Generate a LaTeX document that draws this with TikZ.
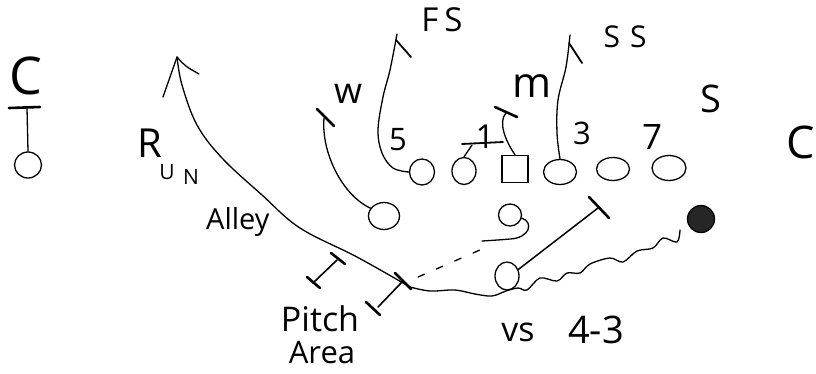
\documentclass[tikz,border=0pt]{standalone}
\usepackage{fontspec}
\setmainfont{Open Sans}
\usetikzlibrary{shapes.geometric,calc}
\begin{document}
\begin{tikzpicture}[x=1pt,y=-1pt,
  pen/.style={line width=1.3pt,line cap=round,line join=round},
  bar/.style={line width=2.6pt,line cap=round},
  leg/.style={line width=1.8pt,line cap=round},
  player/.style={draw,ellipse,line width=1.3pt,inner sep=0pt},
  lbl/.style={inner sep=0pt,font=\fontsize{#1}{#1}\selectfont},
]
\useasboundingbox (0,0) rectangle (816,373);

% ---------- players ----------
\node[player,minimum width=27pt,minimum height=26pt] (cb) at (28,165) {};
\node[player,minimum width=31pt,minimum height=27pt] (w)  at (384,216) {};
\node[player,minimum width=25pt,minimum height=26pt] (lt) at (422,172) {};
\node[player,minimum width=24pt,minimum height=27pt] (lg) at (464,171) {};
\node[draw,rectangle,line width=1.3pt,minimum width=26pt,minimum height=27pt] (c) at (515,169) {};
\node[player,minimum width=33pt,minimum height=25pt] (rg) at (560,172) {};
\node[player,minimum width=33pt,minimum height=23pt] (rt) at (613,169) {};
\node[player,minimum width=34pt,minimum height=25pt] (te) at (669,168) {};
\node[player,minimum width=23pt,minimum height=22pt] (rb) at (510,215) {};
\node[player,minimum width=24pt,minimum height=28pt] (qb) at (507,276) {};
\node[player,fill=black!85,minimum size=27pt] (ball) at (701,219) {};

% ---------- labels ----------
\node[lbl=52] (cL) at (26,76) {C};
\node[lbl=45] (cR) at (801,142) {C};
\node[lbl=40] (runR) at (150,143) {R};
\node[lbl=21] (runU) at (167,172) {U};
\node[lbl=21] (runN) at (191,177) {N};
\node[lbl=29,anchor=base west] (alley) at (206,229) {Alley};
\node[lbl=34] (pitch) at (320,319) {Pitch};
\node[lbl=31] (area) at (322,353) {Area};
\node[lbl=33] (fs) at (442,20) {F\hspace{6pt}S};
\node[lbl=30] (ss) at (625,37) {S\hspace{10pt}S};
\node[lbl=38] (s) at (711,99) {S};
\node[lbl=36] (wl) at (348,94) {w};
\node[lbl=42] (ml) at (532,86) {m};
\node[lbl=31] (n5) at (398,140) {5};
\node[lbl=33] (n1) at (485,137) {1};
\node[lbl=31] (n3) at (582,133) {3};
\node[lbl=35] (n7) at (652,137) {7};
\node[lbl=34] (vs) at (518,332) {vs};
\node[lbl=38] (fourthree) at (596,330) {4-3};

% ---------- corner ----------
\coordinate (cbT) at (27,108);
\draw[pen] (cb.north) -- (cbT);
\draw[bar] (9,108) -- (40,107);

% ---------- option run path ----------
\coordinate (pp) at (410,287);
\coordinate (tip) at (177,57);
\draw[pen] plot[smooth,tension=0.6] coordinates {(pp) (357,257) (300,228) (262,195) (222,158) (197,125) (182,85) (tip)};
\draw[pen] (163,97) -- (tip) .. controls (185,66) .. (199,74);

% ---------- pitch area markers ----------
\draw[pen,line width=1.6pt] (313,283) -- (337,260);
\draw[bar] (307,277) -- (320,288);
\draw[bar] (331,253) -- (345,264);
\draw[pen,line width=1.6pt] (403,281) -- (378,307);
\draw[bar] (395,273) -- (411,289);
\draw[bar] (366,302) -- (380,315);

% ---------- pitch (dashed) ----------
\coordinate (dashEnd) at (489,246);
\draw[pen,dash pattern=on 7pt off 13pt] (418,277) -- (dashEnd);

% ---------- quarterback's wavy path ----------
\draw[pen] plot[smooth,tension=0.55] coordinates {(pp) (430,291) (455,290) (475,294) (492,296) (506,291) (518,288) (527,290) (540,278) (557,281) (567,273) (580,273) (590,264) (610,258) (623,262) (637,251) (653,248) (663,238) (677,242) (680,230)};

% ---------- QB block ----------
\coordinate (qbT) at (598,208);
\draw[pen,line width=1.5pt] (qb.30) -- (qbT);
\draw[bar] (589,197) -- (609,218);

% ---------- running back ----------
\draw[pen] (rb.-15) .. controls (534,222) and (530,238) .. (510,239) .. controls (498,240) .. (482,241);

% ---------- W linebacker ----------
\coordinate (wT) at (324,118);
\draw[pen] (w.150) .. controls (342,195) and (321,152) .. (wT);
\draw[bar] (317,109) -- (334,126);

% ---------- free safety release ----------
\coordinate (fsT) at (397,34);
\draw[pen] plot[smooth,tension=0.6] coordinates {(lt.west) (393,168) (382,153) (378,130) (383,97) (390,70) (fsT)};
\draw[leg] (396,40) -- (411,57);

% ---------- Mike ----------
\coordinate (mT) at (506,113);
\draw[pen] (c.north) .. controls (505,140) and (498,122) .. (mT);
\draw[bar] (495,107) -- (517,117);

% ---------- left guard ----------
\coordinate (lgT) at (472,145);
\draw[pen] (lg.north) -- (lgT);
\draw[leg] (462,144) -- (503,142);

% ---------- strong safety release ----------
\coordinate (ssT) at (570,35);
\draw[pen] plot[smooth,tension=0.6] coordinates {(rg.north) (557,133) (558,100) (566,67) (ssT)};
\draw[leg] (569,43) -- (582,63);
\end{tikzpicture}
\end{document}
